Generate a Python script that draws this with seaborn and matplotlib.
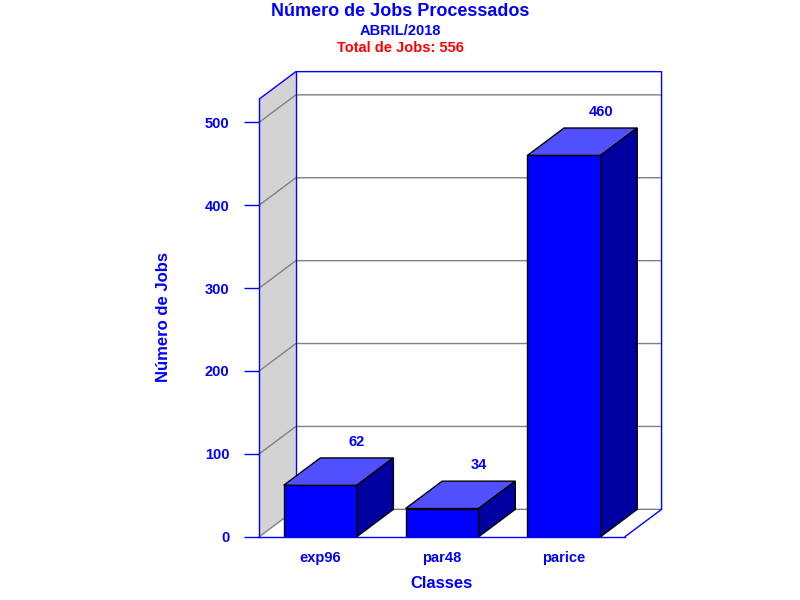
import matplotlib
matplotlib.use("Agg")
import matplotlib.pyplot as plt
from matplotlib.patches import Polygon
import seaborn as sns

categories = ["exp96", "par48", "parice"]
values = [62, 34, 460]
yticks = [0, 100, 200, 300, 400, 500]
title = "Número de Jobs Processados"
subtitle = "ABRIL/2018"
total_text = "Total de Jobs: 556"
xlabel = "Classes"
ylabel = "Número de Jobs"

sns.set_style("white")
plt.rcParams["font.family"] = ["Liberation Sans", "DejaVu Sans"]
plt.rcParams["font.weight"] = "bold"

BLUE = "#0000FF"
TOP = "#5050FF"
SIDE = "#0000A0"
WALL = "#D3D3D3"
GRID = "#808080"

W, H = 800, 600
fig = plt.figure(figsize=(8, 6), dpi=100)
L, R, B, T = 259.3, 625.0, 536.7, 99.0
ax = fig.add_axes([L / W, 1 - B / H, (R - L) / W, (B - T) / H])

YMAX = 528
DX, DY = 0.3, 33  # depth offset in data units

sns.barplot(x=categories, y=values, color=BLUE, saturation=1, width=0.6,
            edgecolor="black", linewidth=1, ax=ax, zorder=3)
ax.set_xlim(-0.5, 2.5)
ax.set_ylim(0, YMAX)

# walls
x0, x1 = -0.5, 2.5
ax.add_patch(Polygon([(x0, 0), (x0 + DX, DY), (x0 + DX, YMAX + DY), (x0, YMAX)],
                     closed=True, facecolor=WALL, edgecolor="none", zorder=0, clip_on=False))
for v in yticks:
    ax.plot([x0, x0 + DX, x1 + DX], [v, v + DY, v + DY], color=GRID, lw=1, zorder=1, clip_on=False)
# blue frame lines
frame = dict(color=BLUE, lw=1, zorder=2, clip_on=False)
ax.plot([x0, x0 + DX, x1 + DX, x1 + DX], [YMAX, YMAX + DY, YMAX + DY, DY], **frame)
ax.plot([x0 + DX, x0 + DX], [DY, YMAX + DY], **frame)
ax.plot([x1, x1 + DX], [0, DY], **frame)

# 3D faces for bars
for p, v in zip(ax.patches[:len(values)], values):
    bx, bw, bh = p.get_x(), p.get_width(), p.get_height()
    top = [(bx, bh), (bx + DX, bh + DY), (bx + bw + DX, bh + DY), (bx + bw, bh)]
    side = [(bx + bw, 0), (bx + bw + DX, DY), (bx + bw + DX, bh + DY), (bx + bw, bh)]
    ax.add_patch(Polygon(top, closed=True, facecolor=TOP, edgecolor="black", lw=1, zorder=3, clip_on=False))
    ax.add_patch(Polygon(side, closed=True, facecolor=SIDE, edgecolor="black", lw=1, zorder=3, clip_on=False))
    ax.annotate(str(v), xy=(bx + bw / 2 + DX, bh + DY), xytext=(0, 11.7), textcoords="offset points",
                ha="center", va="center", color=BLUE, fontsize=10.5, fontweight="bold", annotation_clip=False)

# axes styling
for s in ["top", "right"]:
    ax.spines[s].set_visible(False)
for s in ["left", "bottom"]:
    ax.spines[s].set_color(BLUE)
    ax.spines[s].set_linewidth(1)
    ax.spines[s].set_zorder(4)
ax.set_yticks(yticks)
ax.tick_params(axis="y", direction="out", length=10.8, width=1, color=BLUE,
               labelcolor=BLUE, labelsize=10.5, pad=10.8, left=True)
ax.tick_params(axis="x", length=0, labelcolor=BLUE, labelsize=10.5, pad=10)
for lab in ax.get_xticklabels() + ax.get_yticklabels():
    lab.set_fontweight("bold")
ax.grid(False)
ax.patch.set_alpha(0)

ax.set_xlabel(xlabel, color=BLUE, fontsize=12, fontweight="bold", va="center")
ax.xaxis.set_label_coords(0.4988, -0.1058)
ax.set_ylabel(ylabel, color=BLUE, fontsize=12, fontweight="bold", va="center")
ax.yaxis.set_label_coords(-0.2606, 0.5008)

fig.text(400 / W, 1 - 15.7 / H, title, ha="center", va="baseline", color=BLUE, fontsize=13, fontweight="bold")
fig.text(400 / W, 1 - 34.7 / H, subtitle, ha="center", va="baseline", color=BLUE, fontsize=10.5, fontweight="bold")
fig.text(400 / W, 1 - 51.7 / H, total_text, ha="center", va="baseline", color="#FF0000", fontsize=10.5, fontweight="bold")

fig.savefig("out.png", dpi=100)
